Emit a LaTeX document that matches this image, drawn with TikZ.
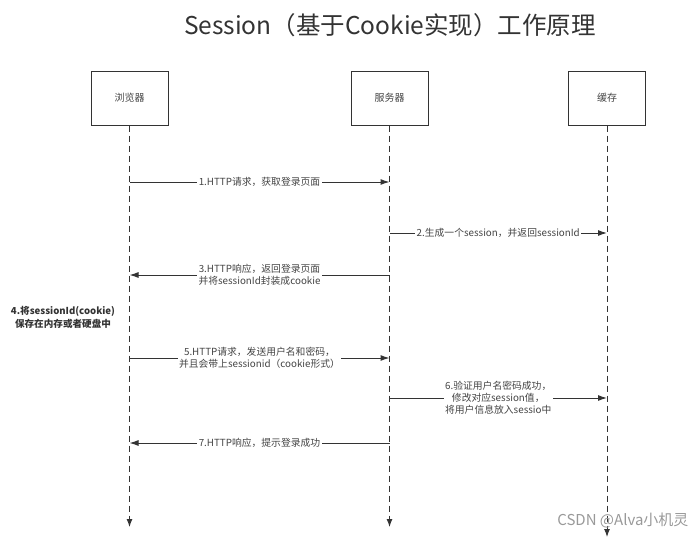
\documentclass[tikz,border=0pt]{standalone}
\usepackage{fontspec}
\setmainfont{Noto Sans CJK SC}
\usetikzlibrary{arrows.meta, positioning}
\definecolor{inkgray}{HTML}{333333}
\definecolor{textgray}{HTML}{444444}

\begin{document}
\begin{tikzpicture}[x=1pt, y=-1pt, font=\fontsize{10}{12}\selectfont,
  actor/.style={draw=inkgray, line width=1pt, minimum width=77pt, minimum height=54pt, text=textgray},
  lifeline/.style={draw=inkgray, line width=1pt, dashed, dash pattern=on 6pt off 4pt, -{Latex[length=8pt, width=6pt]}},
  msg/.style={draw=inkgray, line width=1pt, -{Latex[length=9pt, width=6pt]}},
  msglabel/.style={fill=white, inner sep=1.5pt, text=textgray, align=center, font=\fontsize{9.8}{12}\selectfont}]
  \useasboundingbox (0,0) rectangle (698,538);
  % ============ title ============
  \node[text=inkgray, font=\fontsize{24.5}{28}\selectfont] (title) at (390,25) {Session（基于Cookie实现）工作原理};
  % ============ actors ============
  \node[actor] (browser) at (129.5,98) {浏览器};
  \node[actor] (server) at (389.5,98) {服务器};
  \node[actor] (cache) at (607,98) {缓存};
  \coordinate (browserEnd) at (129.5,527);
  \coordinate (serverEnd) at (389.5,527);
  \coordinate (cacheEnd) at (607,537);
  \draw[lifeline] (browser) -- (browserEnd);
  \draw[lifeline] (server) -- (serverEnd);
  \draw[lifeline] (cache) -- (cacheEnd);
  % ============ messages ============
  \draw[msg] (browser |- 0,182) -- (server |- 0,182)
    node[msglabel, midway] (m1) {1.HTTP请求，获取登录页面};
  \draw[msg] (server |- 0,233) -- (cache |- 0,233)
    node[msglabel, midway] (m2) {2.生成一个session，并返回sessionId};
  \draw[msg] (server |- 0,275) -- (browser |- 0,275)
    node[msglabel, midway] (m3) {3.HTTP响应，返回登录页面\\并将sessionId封装成cookie};
  \node[text=inkgray, align=center, font=\fontsize{9.6}{13}\selectfont\bfseries] (store) at (63,317)
    {4.将sessionId(cookie)\\保存在内存或者硬盘中};
  \draw[msg] (browser |- 0,358) -- (server |- 0,358)
    node[msglabel, midway] (m5) {5.HTTP请求，发送用户名和密码，\\并且会带上sessionid（cookie形式）};
  \draw[msg] (server |- 0,398) -- (cache |- 0,398)
    node[msglabel, midway] (m6) {6.验证用户名密码成功，\\修改对应session值，\\将用户信息放入sessio中};
  \draw[msg] (server |- 0,443) -- (browser |- 0,443)
    node[msglabel, midway] (m7) {7.HTTP响应，提示登录成功};
  % ============ watermark ============
  \node[text=black!40, font=\fontsize{15}{17}\selectfont, anchor=east] (mark) at (692,520) {CSDN @Alva小机灵};
\end{tikzpicture}
\end{document}
